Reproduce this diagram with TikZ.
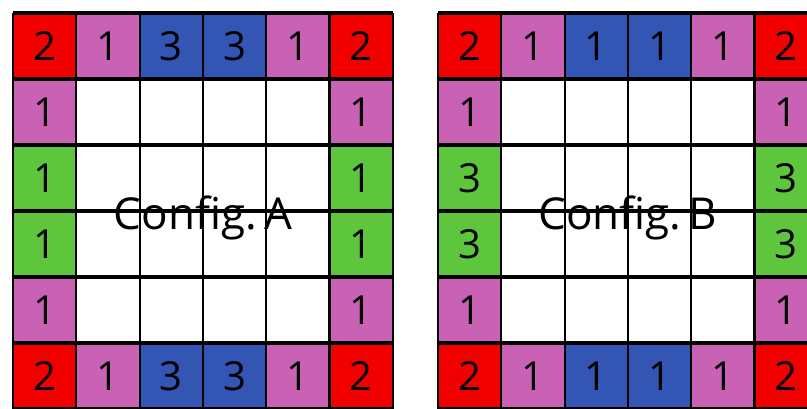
\documentclass[tikz,border=0pt]{standalone}
\usepackage{fontspec}
\setmainfont{Open Sans}
\usetikzlibrary{positioning}
\definecolor{cfred}  {HTML}{F20000}
\definecolor{cfpink} {HTML}{C962B4}
\definecolor{cfblue} {HTML}{3355B3}
\definecolor{cfgreen}{HTML}{5EC63D}

\begin{document}
\begin{tikzpicture}[x=1pt,y=-1pt,
      cell/.style={anchor=north west,minimum width=63.3pt,minimum height=66pt,
                   inner sep=0pt,outer sep=0pt,font=\fontsize{40}{40}\selectfont},
      lbl/.style={anchor=base,inner sep=0pt,font=\fontsize{44}{44}\selectfont},
      hline/.style={line width=3.6pt},
      vline/.style={line width=2.2pt}]
    \useasboundingbox (0,0) rectangle (807,409);
    \clip (0,0) rectangle (807,409);
    % Config. A
    \foreach \r in {0,5}
      \foreach \c/\col/\v in {0/cfred/2,1/cfpink/1,2/cfblue/3,3/cfblue/3,4/cfpink/1,5/cfred/2}
        \node[cell,fill=\col] (A-\r-\c) at (13+\c*63.3,13+\r*66) {\v};
    \foreach \c in {0,5}
      \foreach \r/\col/\v in {1/cfpink/1,2/cfgreen/1,3/cfgreen/1,4/cfpink/1}
        \node[cell,fill=\col] (A-\r-\c) at (13+\c*63.3,13+\r*66) {\v};
    \node[lbl] (labA) at (13+3*63.3,230) {Config.\,A};
    % Config. B
    \foreach \r in {0,5}
      \foreach \c/\col/\v in {0/cfred/2,1/cfpink/1,2/cfblue/1,3/cfblue/1,4/cfpink/1,5/cfred/2}
        \node[cell,fill=\col] (B-\r-\c) at (438+\c*63.3,13+\r*66) {\v};
    \foreach \c in {0,5}
      \foreach \r/\col/\v in {1/cfpink/1,2/cfgreen/3,3/cfgreen/3,4/cfpink/1}
        \node[cell,fill=\col] (B-\r-\c) at (438+\c*63.3,13+\r*66) {\v};
    \node[lbl] (labB) at (438+3*63.3,230) {Config.\,B};
    % grid lines on top
    \foreach \ox in {13,438} {
      \foreach \i in {0,...,6} {
        \draw[vline] (\ox+\i*63.3,13) -- (\ox+\i*63.3,13+6*66);
        \draw[hline] (\ox,13+\i*66) -- (\ox+6*63.3,13+\i*66);
      }
    }
  \end{tikzpicture}
\end{document}
